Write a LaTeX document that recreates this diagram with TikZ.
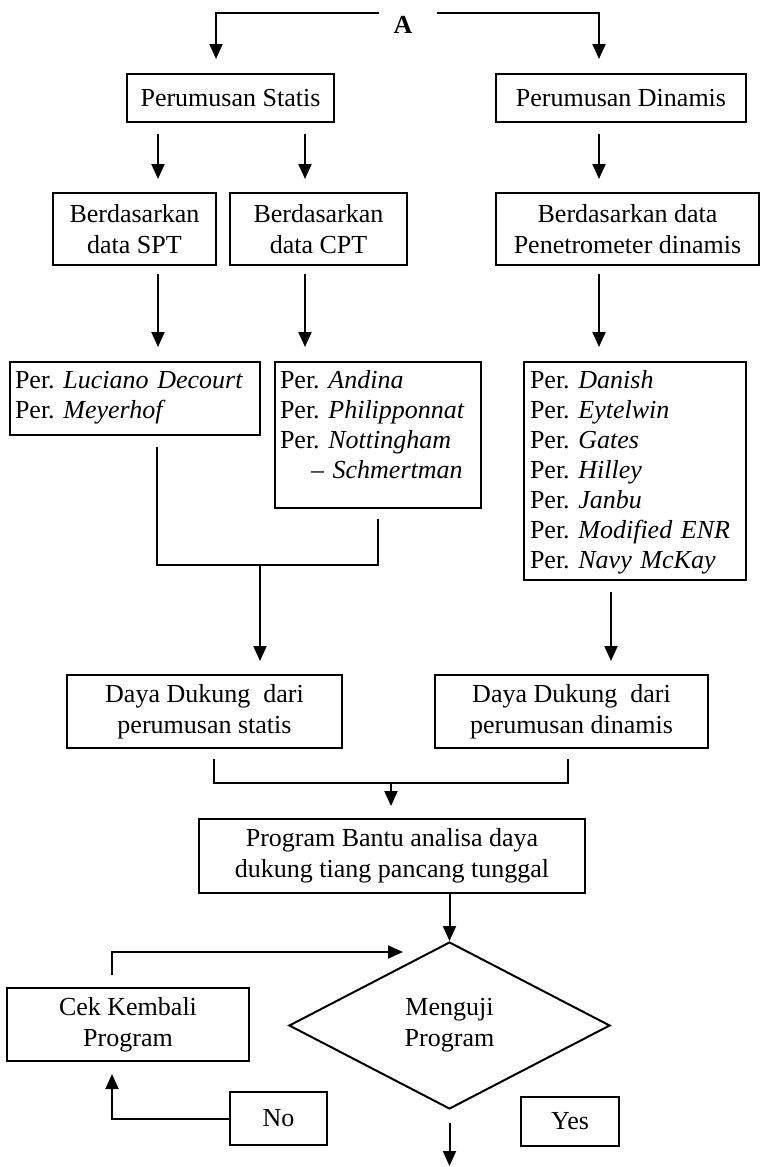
\documentclass[tikz,border=0pt]{standalone}
\usepackage{fontspec}
\setmainfont{Liberation Serif}
\usetikzlibrary{arrows.meta,positioning,shapes.geometric,calc}
\begin{document}
\begin{tikzpicture}[x=1pt,y=-1pt,every node/.style={font=\fontsize{26}{31}\selectfont\frenchspacing,align=center},
box/.style={draw,line width=2pt,inner sep=0pt},
list/.style={draw,line width=2pt,align=left,font=\fontsize{26}{30}\selectfont\frenchspacing,inner xsep=5pt,inner ysep=8pt,text height=18pt,anchor=north},
line/.style={line width=2pt},
arr/.style={line width=2pt,-{Triangle[length=15pt,width=13pt]}}]
\useasboundingbox (0,0) rectangle (762,1167);
\node[font=\bfseries\fontsize{26}{31}\selectfont] (A) at (403,25) {A};
\node[box,minimum width=207pt,minimum height=48pt] (stat) at (230.5,98) {Perumusan Statis};
\node[box,minimum width=250pt,minimum height=48pt] (dyn) at (621,98) {Perumusan Dinamis};
\node[box,minimum width=163pt,minimum height=72pt] (spt) at (134.5,229) {Berdasarkan\\data SPT};
\node[box,minimum width=177pt,minimum height=72pt] (cpt) at (318.5,229) {Berdasarkan\\data CPT};
\node[box,minimum width=263pt,minimum height=72pt] (pen) at (627.5,229) {Berdasarkan data\\Penetrometer dinamis};
\node[list,text width=240pt,text depth=39pt] (lspt) at (135,361) {Per. \textit{Luciano Decourt}\\Per. \textit{Meyerhof}};
\node[list,text width=196pt,text depth=112pt] (lcpt) at (378,361) {Per. \textit{Andina}\\Per. \textit{Philipponnat}\\Per. \textit{Nottingham}\\\hspace*{31pt}– \textit{Schmertman}};
\node[list,inner xsep=6pt,text width=210pt,text depth=184pt] (ldyn) at (635,361) {Per. \textit{Danish}\\Per. \textit{Eytelwin}\\Per. \textit{Gates}\\Per. \textit{Hilley}\\Per. \textit{Janbu}\\Per. \textit{Modified ENR}\\Per. \textit{Navy McKay}};
\node[box,minimum width=275pt,minimum height=73pt] (dds) at (204.5,711.5) {Daya Dukung\ \ dari\\perumusan statis};
\node[box,minimum width=273pt,minimum height=73pt] (ddd) at (571.5,711.5) {Daya Dukung\ \ dari\\perumusan dinamis};
\node[box,minimum width=386pt,minimum height=74pt] (prog) at (392,856) {Program Bantu analisa daya\\dukung tiang pancang tunggal};
\node[draw,diamond,line width=2pt,inner sep=0pt,minimum width=321pt,minimum height=167pt] (uji) at (449.5,1025.5) {Menguji\\Program};
\node[box,minimum width=242pt,minimum height=73pt] (cek) at (128,1024.5) {Cek Kembali\\Program};
\node[box,minimum width=97pt,minimum height=53pt] (no) at (278.5,1118.5) {No};
\node[box,minimum width=98pt,minimum height=49pt] (yes) at (570,1121.5) {Yes};
\coordinate (aL) at (379,13);\coordinate (aR) at (437,13);
\coordinate (j1) at (260,565);\coordinate (j2) at (391,783);
\coordinate (back) at (403,952);\coordinate (out) at (449.5,1166);
\draw[arr,shorten >=14pt] (aL) -| ([xshift=-14.5pt]stat.north);\draw[arr,shorten >=14pt] (aR) -| ([xshift=-22pt]dyn.north);
\draw[arr,shorten <=11pt,shorten >=13pt] ([xshift=-72.5pt]stat.south) -- ([xshift=23.5pt]spt.north);
\draw[arr,shorten <=11pt,shorten >=13pt] ([xshift=74.5pt]stat.south) -- ([xshift=-13.5pt]cpt.north);
\draw[arr,shorten <=11pt,shorten >=13pt] ([xshift=-22pt]dyn.south) -- ([xshift=-28.5pt]pen.north);
\draw[arr,shorten <=8pt,shorten >=14pt] ([xshift=23.5pt]spt.south) -- ([xshift=23pt]lspt.north);
\draw[arr,shorten <=8pt,shorten >=14pt] ([xshift=-13.5pt]cpt.south) -- ([xshift=-73pt]lcpt.north);
\draw[arr,shorten <=8pt,shorten >=14pt] ([xshift=-28.5pt]pen.south) -- ([xshift=-36pt]ldyn.north);
\draw[line,shorten <=11pt] ([xshift=21.5pt]lspt.south) |- (j1);\draw[line,shorten <=10pt] ([xshift=-0.5pt]lcpt.south) |- (j1);
\draw[arr,shorten >=13pt] (j1) -- (j1 |- dds.north);
\draw[arr,shorten <=11pt,shorten >=13pt] ([xshift=-24pt]ldyn.south) -- ([xshift=39.5pt]ddd.north);
\draw[line,shorten <=10pt] ([xshift=9.5pt]dds.south) |- (j2);\draw[line,shorten <=10pt] ([xshift=-3.5pt]ddd.south) |- (j2);
\draw[arr,shorten >=12pt] (j2) -- (j2 |- prog.north);
\draw[arr] (uji.north |- prog.south) -- (uji.north);
\draw[arr] ([xshift=-16pt,yshift=12pt]cek.north) |- (back);
\draw[arr] (no.west) -| ([xshift=-16pt,yshift=-12pt]cek.south);
\draw[arr] ([yshift=-13pt]uji.south) -- (out);
\end{tikzpicture}
\end{document}
